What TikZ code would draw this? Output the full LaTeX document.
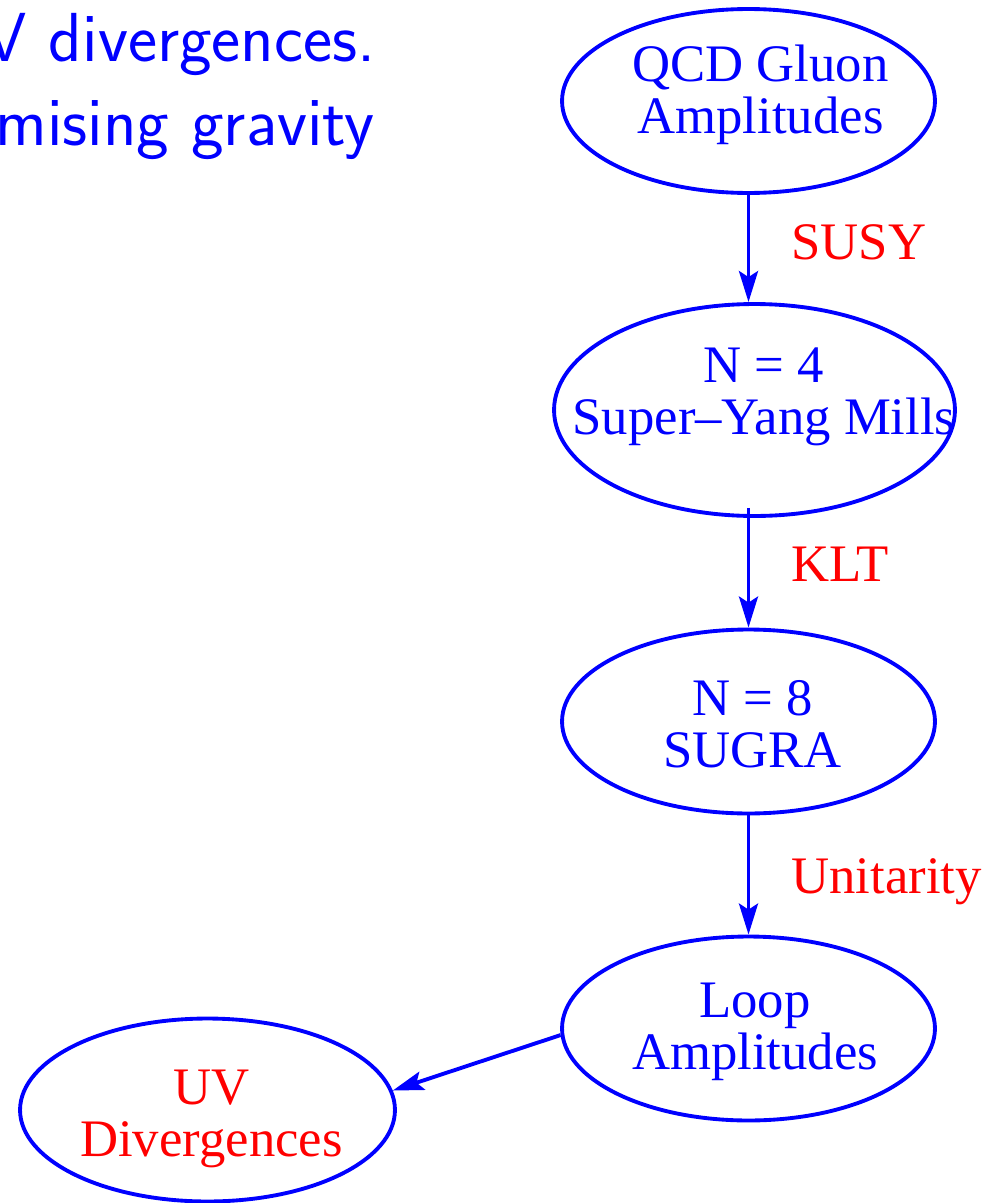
\documentclass[tikz,border=0pt]{standalone}
\usepackage{fontspec}
\setmainfont{Liberation Serif}
\usetikzlibrary{shapes.geometric,arrows.meta}

\begin{document}
\begin{tikzpicture}[x=0.02cm, y=-0.02cm]
  \tikzset{blob/.style={ellipse, draw=blue, line width=2.2pt, inner sep=0pt, minimum width=7.46cm, minimum height=3.68cm}}
  \tikzset{lbl/.style={font=\fontsize{30}{29.5}\selectfont, text=blue, align=center, inner sep=0pt}}
  \tikzset{elab/.style={font=\fontsize{30}{29.5}\selectfont, text=red, anchor=base west, inner sep=0pt}}
  \tikzset{slide/.style={font=\sffamily\fontsize{39.5}{47}\selectfont, text=blue, anchor=base east, inner sep=0pt}}
  \tikzset{flow/.style={draw=blue, line width=2.2pt, -{Stealth[length=0.62cm, width=0.38cm, inset=0.12cm]}}}
  \useasboundingbox (0,0) rectangle (991,1203);
  \clip (0,0) rectangle (991,1203);
  % slide text
  \node[slide] (divl) at (376,62) {V divergences.};
  \node[slide] (gravl) at (375,145) {mising gravity};
  % ellipses
  \node[blob] (qcd) at (748.5,101) {};
  \node[lbl] (qcdT) at (760.5,95) {QCD Gluon\\Amplitudes};
  \node[blob, minimum width=8.02cm, minimum height=4.24cm] (n4) at (754.5,410) {};
  \node[lbl] (n4T) at (764,397) {N = 4\\Super--Yang Mills};
  \node[blob] (n8) at (748.5,721.5) {};
  \node[lbl] (n8T) at (752.5,724.5) {N = 8\\SUGRA};
  \node[blob] (loop) at (748.5,1028.5) {};
  \node[lbl] (loopT) at (755,1032) {Loop\\Amplitudes};
  \node[blob, minimum width=7.5cm, minimum height=3.66cm] (uv) at (207.5,1110) {};
  \node[lbl, text=red] (uvT) at (211.5,1119) {UV\\Divergences};
  % arrows
  \draw[flow] (qcd.south) -- (qcd.south |- n4.north);
  \draw[flow, shorten <=-0.2cm] (n8.north |- n4.south) -- (n8.north);
  \draw[flow] (n8.south) -- (loop.north);
  \draw[flow] (loop.182) -- (uv.6.5);
  % arrow labels
  \node[elab] (susy) at (791,259) {SUSY};
  \node[elab] (klt) at (791,581) {KLT};
  \node[elab] (unit) at (791,893) {Unitarity};
\end{tikzpicture}
\end{document}
